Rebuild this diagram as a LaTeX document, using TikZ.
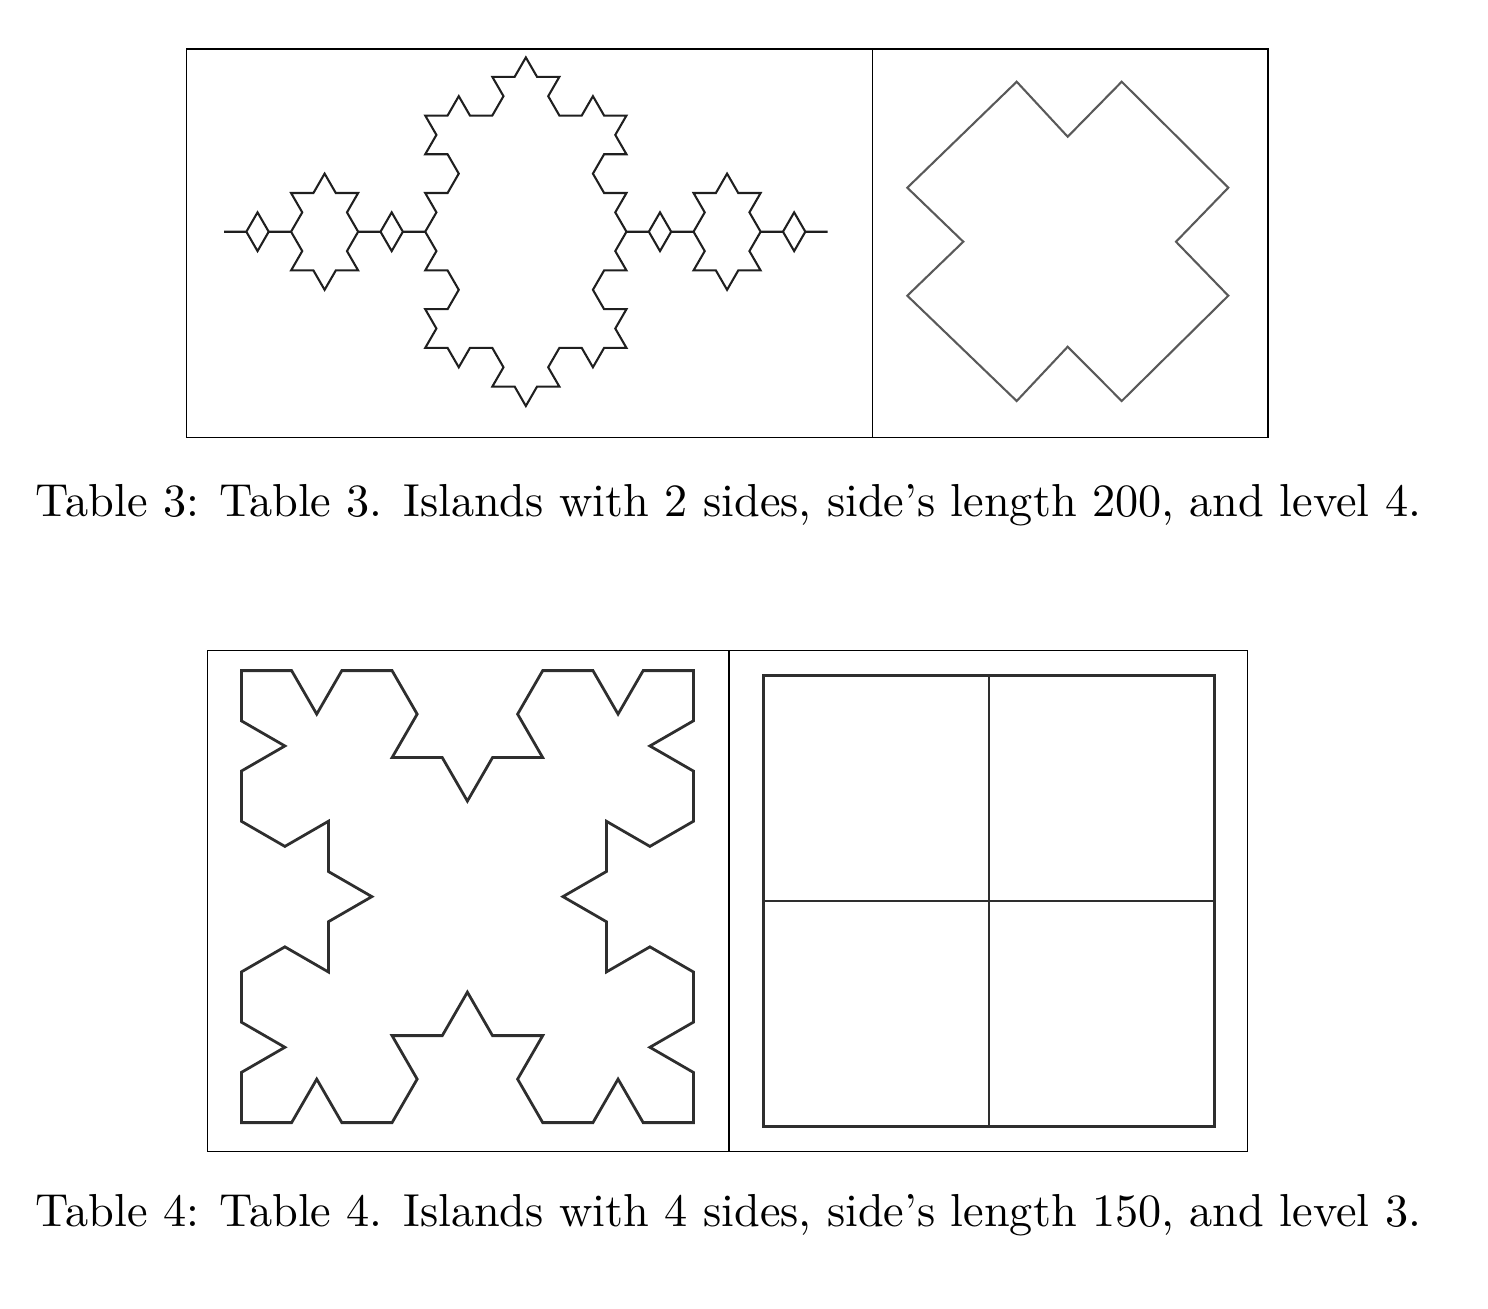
\documentclass[tikz,border=0pt]{standalone}
\usepackage{tikz}

% one side of a Koch island, appended to \kochpath
\newcommand{\kochside}[5]{%
  \ifnum#1=0\relax
    \xdef\kochpath{\kochpath -- (#4,#5)}%
  \else
    \begingroup
      \pgfmathsetmacro\kpx{#2}\pgfmathsetmacro\kpy{#3}%
      \pgfmathsetmacro\kqx{#4}\pgfmathsetmacro\kqy{#5}%
      \pgfmathtruncatemacro\kn{#1-1}%
      \pgfmathsetmacro\kdx{(\kqx-\kpx)/3}\pgfmathsetmacro\kdy{(\kqy-\kpy)/3}%
      \pgfmathsetmacro\kax{\kpx+\kdx}\pgfmathsetmacro\kay{\kpy+\kdy}%
      \pgfmathsetmacro\kbx{\kpx+2*\kdx}\pgfmathsetmacro\kby{\kpy+2*\kdy}%
      \pgfmathsetmacro\kcx{\kax+0.5*\kdx-0.866025*\kdy}%
      \pgfmathsetmacro\kcy{\kay+0.866025*\kdx+0.5*\kdy}%
      \kochside{\kn}{\kpx}{\kpy}{\kax}{\kay}%
      \kochside{\kn}{\kax}{\kay}{\kcx}{\kcy}%
      \kochside{\kn}{\kcx}{\kcy}{\kbx}{\kby}%
      \kochside{\kn}{\kbx}{\kby}{\kqx}{\kqy}%
    \endgroup
  \fi}

\begin{document}
\begin{tikzpicture}[x=0.2162pt, y=-0.2162pt,
    frame/.style={draw=black, line width=0.3pt},
    island/.style={draw=black!88, line width=0.45pt, line join=miter},
    thick island/.style={draw=black!82, line width=0.6pt, line join=miter},
    grey island/.style={draw=black!65, line width=0.45pt, line join=miter},
    caption/.style={anchor=base west, inner sep=0pt, font=\fontsize{10}{12}\selectfont}]

    \useasboundingbox (0,0) rectangle (1488,1308);

    % Table 3
    \draw[frame] (186.7,49) rectangle (1268,437.7);
    \draw[frame] (872.7,49) -- (872.7,437.7);

    \gdef\kochpath{}
    \kochside{3}{224}{231.7}{827.7}{231.7}
    \kochside{3}{827.7}{231.7}{224}{231.7}
    \draw[island] (224,231.7) \kochpath;

    \draw[grey island] (1016.7,81.7) -- (1067.7,136.7) -- (1121.7,81.7)
        -- (1228.3,187.7) -- (1176,241.7) -- (1228.3,295.7)
        -- (1121.7,401) -- (1067.7,346.7) -- (1016.7,401)
        -- (907.3,295.7) -- (963.3,241.7) -- (907.3,187.7) -- cycle;

    \node[caption] (cap3) at (35,516)
        {Table 3: Table 3. Islands with 2 sides, side's length 200, and level 4.};

    % Table 4
    \draw[frame] (207.7,650.7) rectangle (1247.3,1151.3);
    \draw[frame] (729,650.7) -- (729,1151.3);

    \gdef\kochpath{}
    \kochside{2}{241.4}{670.6}{693.4}{670.6}
    \kochside{2}{693.4}{670.6}{693.4}{1122.6}
    \kochside{2}{693.4}{1122.6}{241.4}{1122.6}
    \kochside{2}{241.4}{1122.6}{241.4}{670.6}
    \draw[thick island] (241.4,670.6) \kochpath -- cycle;

    \draw[thick island] (763.5,675.5) rectangle (1214.5,1126.5);
    \draw[thick island] (989,675.5) -- (989,1126.5);
    \draw[thick island] (763.5,901) -- (1214.5,901);

    \node[caption] (cap4) at (35,1226)
        {Table 4: Table 4. Islands with 4 sides, side's length 150, and level 3.};

\end{tikzpicture}
\end{document}
